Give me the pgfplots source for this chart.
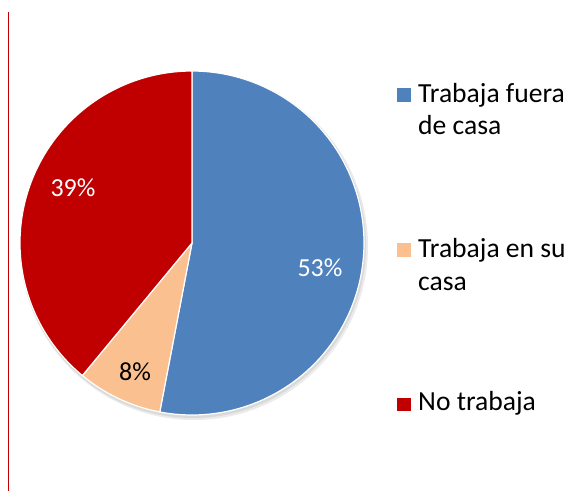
\documentclass[border=0pt]{standalone}
\usepackage{pgfplots}
\pgfplotsset{compat=1.18}
\usepackage{fontspec}
\setmainfont{Carlito}
\definecolor{cblue}{HTML}{4F81BD}
\definecolor{cpeach}{HTML}{FAC090}
\definecolor{cred}{HTML}{C00000}
% shares (percent)
\def\pA{53}% Trabaja fuera de casa
\def\pB{8}%  Trabaja en su casa
\def\pC{39}% No trabaja
\def\cx{192}\def\cy{243}\def\R{172}
\begin{document}
\begin{tikzpicture}
\begin{axis}[
  width=585pt, height=491pt, scale only axis,
  xmin=0, xmax=585, ymin=0, ymax=491, y dir=reverse,
  axis lines=none, ticks=none, clip=false,
]
\addplot[draw=none] coordinates {(0,0) (585,491)};
% left red rule
\addplot[cred, line width=1.2pt] coordinates {(8.5,12) (8.5,491)};
% soft shadow
\fill[black, opacity=0.08] (axis cs:194,246) circle[radius=174pt];
\fill[black, opacity=0.08] (axis cs:193,245) circle[radius=173pt];
% slices
\addplot[fill=cblue, draw=white, line width=1.2pt, domain=90:{90-3.6*\pA}, samples=120]
  ({\cx+\R*cos(x)}, {\cy-\R*sin(x)}) -- (axis cs:\cx,\cy) -- cycle;
\addplot[fill=cpeach, draw=white, line width=1.2pt, domain={90-3.6*\pA}:{90-3.6*(\pA+\pB)}, samples=40]
  ({\cx+\R*cos(x)}, {\cy-\R*sin(x)}) -- (axis cs:\cx,\cy) -- cycle;
\addplot[fill=cred, draw=white, line width=1.2pt, domain={90-3.6*(\pA+\pB)}:{90-3.6*(\pA+\pB+\pC)}, samples=100]
  ({\cx+\R*cos(x)}, {\cy-\R*sin(x)}) -- (axis cs:\cx,\cy) -- cycle;
% labels
\node[white, font=\fontsize{26}{30}\selectfont] at (axis cs:320,268) {53\%};
\node[black, font=\fontsize{26}{30}\selectfont] at (axis cs:135,372) {8\%};
\node[white, font=\fontsize{26}{30}\selectfont] at (axis cs:73,188) {39\%};
% legend
\fill[cblue] (axis cs:397,88) rectangle (axis cs:411,102);
\fill[cpeach] (axis cs:397,243) rectangle (axis cs:411,257);
\fill[cred] (axis cs:397,398) rectangle (axis cs:411,411);
\begin{scope}[every node/.style={anchor=base west, inner sep=0pt, font=\fontsize{27.6}{32}\selectfont}]
\node at (axis cs:418,103) {Trabaja fuera};
\node at (axis cs:418,135) {de casa};
\node at (axis cs:418,257) {Trabaja en su};
\node at (axis cs:418,290) {casa};
\node at (axis cs:418,410) {No trabaja};
\end{scope}
\end{axis}
\end{tikzpicture}
\end{document}
